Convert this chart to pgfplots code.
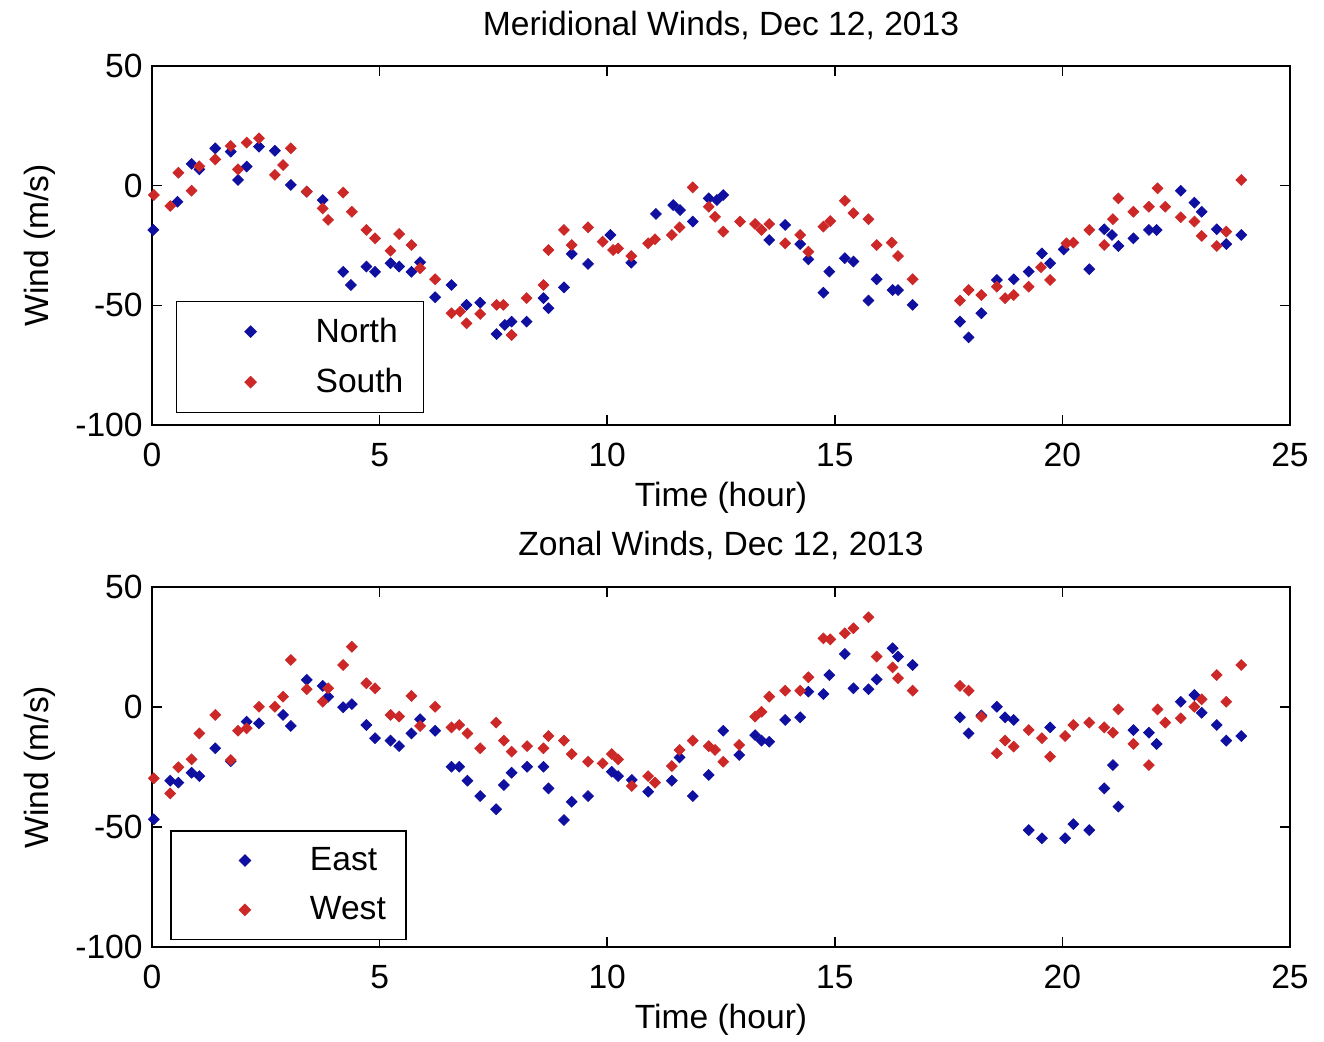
\documentclass[border=0pt]{standalone}
\usepackage{fontspec}
\setmainfont{Liberation Sans}
\usepackage{pgfplots}
\pgfplotsset{compat=1.18}
\definecolor{mblue}{RGB}{15,15,160}
\definecolor{mred}{RGB}{205,40,40}
\newcommand{\mfont}{\fontsize{16.8}{19}\selectfont}
\pgfplotsset{
  mstyle/.style={
    scale only axis, width=569pt, height=179.5pt,
    xmin=0, xmax=25, ymin=-100, ymax=50,
    xtick={0,5,...,25}, ytick={-100,-50,0,50},
    tick align=inside, major tick length=5pt,
    axis line style={line width=0.7pt}, every tick/.style={black, line width=0.7pt},
    /pgf/number format/assume math mode=true,
    tick label style={font=\mfont},
    xticklabel style={anchor=center, yshift=-15pt},
    yticklabel style={anchor=east, inner sep=0pt, xshift=-4.5pt},
    every axis x label/.style={at={(axis description cs:0.5,-0.2033)}, anchor=center, font=\mfont},
    every axis y label/.style={at={(axis description cs:-0.0984,0.5)}, anchor=center, rotate=90, font=\mfont},
    every axis title/.style={at={(axis description cs:0.5,1.114)}, anchor=center, font=\mfont},
    xlabel={Time (hour)}, ylabel={Wind (m/s)},
    legend style={anchor=south west, draw=black, line width=0.7pt, inner xsep=10pt, inner ysep=8.3pt,
      row sep=11.6pt, column sep=0pt, nodes={inner sep=0pt}, font=\mfont},
    legend cell align=left,
    legend image code/.code={\path[draw=none,fill=none] (0pt,-5pt) rectangle (59.5pt,5pt); \path[#1, draw=none] plot[only marks] coordinates {(27pt,0pt)};},
  },
  bl/.style={only marks, mark=square*, mark size=1.9pt, color=mblue, mark options={rotate=45, solid, draw=mblue, fill=mblue}},
  rd/.style={only marks, mark=square*, mark size=1.9pt, color=mred, mark options={rotate=45, solid, draw=mred, fill=mred}},
}
\begin{document}
\begin{tikzpicture}
\useasboundingbox (0pt,0pt) rectangle (662pt,520.5pt);
\begin{axis}[mstyle, at={(76pt,308pt)}, anchor=south west,
  title={Meridional Winds, Dec 12, 2013},
  legend style={at={(0.021,0.033)}}]
\addplot[bl] coordinates {
(0.03,-18.5) (0.56,-6.7) (0.87,9.1) (1.04,6.8) (1.39,15.6) (1.73,14.2) (1.89,2.4) (2.08,8) (2.35,16.3) (2.70,14.6)
(3.05,0.3) (3.40,-2.5) (3.75,-6) (4.20,-36) (4.37,-41.5) (4.71,-33.8) (4.90,-36) (5.24,-32.4) (5.43,-33.8) (5.70,-36)
(5.89,-32) (6.22,-46.6) (6.58,-41.5) (6.91,-49.8) (7.21,-48.9) (7.57,-62) (7.75,-58.2) (7.90,-56.8) (8.23,-56.8) (8.60,-47)
(8.71,-51.2) (9.05,-42.5) (9.22,-28.5) (9.58,-32.7) (10.07,-20.6) (10.53,-32.2) (11.07,-11.8) (11.45,-8.1) (11.60,-10.2) (11.88,-15)
(12.23,-5.3) (12.41,-6) (12.55,-3.9) (13.56,-22.7) (13.91,-16.4) (14.24,-24.4) (14.42,-30.8) (14.75,-44.7) (14.88,-35.9) (15.22,-30.3)
(15.41,-31.7) (15.74,-48) (15.92,-39.1) (16.27,-43.6) (16.39,-43.6) (16.71,-49.8) (17.75,-56.8) (17.94,-63.4) (18.22,-53.3) (18.56,-39.4)
(18.93,-39.1) (19.26,-35.9) (19.55,-28.3) (19.73,-32.4) (20.03,-26.6) (20.59,-34.9) (20.92,-18.2) (21.09,-20.6) (21.23,-25.2) (21.56,-22)
(21.90,-18.5) (22.07,-18.5) (22.60,-2.1) (22.90,-7.1) (23.06,-10.9) (23.39,-18.2) (23.60,-24.4) (23.93,-20.6)
};
\addlegendentry{North}
\addplot[rd] coordinates {
(0.04,-3.9) (0.40,-8.5) (0.58,5.4) (0.87,-2.1) (1.04,8.1) (1.39,11) (1.73,16.6) (1.89,6.8) (2.08,18) (2.35,19.8)
(2.70,4.5) (2.88,8.6) (3.05,15.6) (3.40,-2.5) (3.75,-9.5) (3.87,-14.3) (4.20,-2.9) (4.39,-10.9) (4.71,-18.5) (4.90,-22)
(5.24,-27.2) (5.43,-20.2) (5.70,-24.8) (5.89,-34.5) (6.22,-39.1) (6.58,-53.3) (6.77,-52.6) (6.91,-57.5) (7.21,-53.6) (7.57,-49.8)
(7.72,-49.8) (7.90,-62.4) (8.23,-47) (8.60,-41.5) (8.71,-26.9) (9.05,-18.5) (9.22,-24.8) (9.58,-17.4) (9.90,-23.4) (10.13,-26.9)
(10.24,-26.2) (10.53,-29.4) (10.90,-24.1) (11.05,-22.4) (11.42,-20.6) (11.59,-17.4) (11.88,-0.7) (12.23,-8.8) (12.37,-13) (12.55,-19.2)
(12.92,-15) (13.25,-16) (13.39,-18.5) (13.56,-16) (13.91,-24.1) (14.24,-20.6) (14.42,-27.6) (14.75,-17.1) (14.90,-14.8) (15.22,-6.3)
(15.41,-11.5) (15.74,-14) (15.92,-24.8) (16.25,-23.8) (16.39,-29.4) (16.71,-39.1) (17.75,-48) (17.94,-43.6) (18.22,-45.7) (18.56,-42.2)
(18.74,-47) (18.93,-45.7) (19.26,-42.2) (19.53,-34.1) (19.73,-39.4) (20.09,-24.1) (20.24,-23.8) (20.59,-18.5) (20.92,-24.8) (21.11,-14)
(21.23,-5.3) (21.56,-10.9) (21.90,-8.8) (22.09,-1.1) (22.26,-8.8) (22.60,-13.2) (22.90,-15) (23.06,-21) (23.39,-25.2) (23.60,-19.2) (23.93,2.4)
};
\addlegendentry{South}
\end{axis}
\begin{axis}[mstyle, at={(76pt,47pt)}, anchor=south west, height=180pt,
  title={Zonal Winds, Dec 12, 2013},
  legend style={at={(0.016,0.019)}}]
\addplot[bl] coordinates {
(0.04,-46.8) (0.40,-30.7) (0.58,-31.5) (0.87,-27.4) (1.04,-28.8) (1.39,-17.2) (1.73,-22.6) (2.08,-6.1) (2.35,-6.8) (2.88,-3.3)
(3.05,-7.9) (3.40,11.3) (3.75,8.8) (3.87,4.3) (4.20,-0.1) (4.39,1.2) (4.71,-7.5) (4.90,-13) (5.24,-14) (5.43,-16.3)
(5.70,-11) (5.89,-5.1) (6.22,-9.9) (6.58,-24.9) (6.75,-24.9) (6.93,-30.7) (7.21,-37.1) (7.56,-42.6) (7.73,-32.5) (7.90,-27.4)
(8.24,-24.9) (8.60,-24.9) (8.71,-33.9) (9.05,-47.1) (9.22,-39.5) (9.58,-37.1) (10.10,-27) (10.24,-28.8) (10.54,-30.4) (10.90,-35.3)
(11.42,-30.7) (11.59,-21) (11.88,-37.1) (12.23,-28.3) (12.55,-9.9) (12.90,-20) (13.25,-11.7) (13.39,-14) (13.56,-14.5) (13.91,-5.4)
(14.24,-4.3) (14.42,6.4) (14.75,5.4) (14.88,13.3) (15.22,22.1) (15.41,7.8) (15.74,7.4) (15.92,11.5) (16.27,24.5) (16.39,21)
(16.71,17.5) (17.75,-4.3) (17.94,-11) (18.22,-3.5) (18.56,0.1) (18.74,-4.3) (18.93,-5.4) (19.26,-51.3) (19.55,-54.7) (19.73,-8.5)
(20.06,-54.7) (20.24,-48.8) (20.59,-51.3) (20.92,-33.9) (21.11,-24.2) (21.23,-41.5) (21.56,-9.6) (21.90,-10.7) (22.07,-15.4) (22.60,2.2)
(22.90,5) (23.06,-2.4) (23.39,-7.5) (23.60,-14) (23.93,-12.1)
};
\addlegendentry{East}
\addplot[rd] coordinates {
(0.04,-29.7) (0.40,-36) (0.58,-25.1) (0.87,-21.8) (1.04,-11) (1.39,-3.3) (1.73,-22.1) (1.89,-9.9) (2.08,-8.9) (2.35,0.1)
(2.70,0.1) (2.88,4.3) (3.05,19.6) (3.40,7.4) (3.75,2.2) (3.87,7.8) (4.20,17.5) (4.39,25.1) (4.71,9.9) (4.90,7.8)
(5.24,-3.3) (5.43,-4) (5.70,4.6) (5.89,-7.9) (6.22,0.1) (6.58,-8.5) (6.75,-7.5) (6.93,-11) (7.21,-17.2) (7.56,-6.5)
(7.73,-14) (7.90,-18.6) (8.24,-16.3) (8.60,-17.2) (8.71,-12.1) (9.05,-14) (9.22,-19.6) (9.58,-22.8) (9.90,-23.5) (10.10,-19.6)
(10.24,-21.8) (10.54,-32.9) (10.90,-28.8) (11.05,-31.5) (11.42,-24.6) (11.59,-17.9) (11.88,-14) (12.23,-16.3) (12.37,-17.9) (12.55,-22.8)
(12.90,-15.8) (13.25,-4) (13.39,-2) (13.56,4.3) (13.91,6.8) (14.24,6.8) (14.42,12.4) (14.75,28.6) (14.90,28.2) (15.22,30.7)
(15.41,32.8) (15.74,37.4) (15.92,21) (16.27,16.5) (16.39,12) (16.71,6.8) (17.75,8.8) (17.94,6.8) (18.22,-4) (18.56,-19.3)
(18.74,-14) (18.93,-16.5) (19.26,-9.6) (19.55,-13) (19.73,-20.7) (20.06,-12.1) (20.24,-7.5) (20.59,-6.5) (20.92,-8.5) (21.11,-10.7)
(21.23,-1) (21.56,-15.4) (21.90,-24.2) (22.09,-1) (22.26,-6.5) (22.60,-4.7) (22.90,0.1) (23.06,3.2) (23.39,13.3) (23.60,2.2) (23.93,17.5)
};
\addlegendentry{West}
\end{axis}
\end{tikzpicture}
\end{document}
